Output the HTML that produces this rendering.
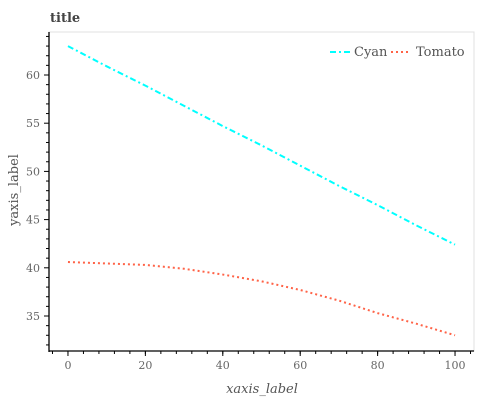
<!DOCTYPE html>
<html><head><meta charset="utf-8"><style>
body{margin:0;background:#fff;}
svg{display:block;font-family:"DejaVu Serif","Liberation Serif",serif;}
</style></head><body>
<svg id="chart" width="479" height="400"></svg>
<script>
const xCategories=[0,10,20,30,40,50,60,70,80,90,100];
const cyanValues=[63.0,60.9,58.9,56.8,54.7,52.7,50.6,48.5,46.5,44.4,42.4];
const tomatoValues=[40.6,40.45,40.3,39.9,39.3,38.6,37.7,36.6,35.3,34.2,33.0];
const xTicks=[0,20,40,60,80,100];
const yTicks=[35,40,45,50,55,60];
const L=49,R=474,T=32,B=351;
const xMin=-4.9,xMax=104.9,yMin=31.37,yMax=64.46;
const sx=v=>L+(v-xMin)/(xMax-xMin)*(R-L);
const sy=v=>B-(v-yMin)/(yMax-yMin)*(B-T);
const svg=document.getElementById('chart');
const NS='http://www.w3.org/2000/svg';
function mk(tag,attrs,parent){const e=document.createElementNS(NS,tag);for(const k in attrs)e.setAttribute(k,attrs[k]);(parent||svg).appendChild(e);return e;}
let e;
e=mk('rect',{x:L,y:T,width:R-L,height:B-T,fill:'none',stroke:'#e0e0e0','stroke-width':1});


e=mk('text',{x:50,y:22,'font-size':13,'font-weight':'bold',fill:'#444'});e.textContent='title';


e=mk('line',{x1:L,y1:T,x2:L,y2:B+1,stroke:'#000','stroke-width':1.3});


e=mk('line',{x1:L,y1:B,x2:R,y2:B,stroke:'#000','stroke-width':1.3});


for(let v=32;v<=64;v++){e=mk('line',{x1:L-(v%5===0?5:3),y1:sy(v),x2:L,y2:sy(v),stroke:'#000','stroke-width':1});

}
for(let v=-4;v<=104;v+=4){e=mk('line',{x1:sx(v),y1:B,x2:sx(v),y2:B+3,stroke:'#000','stroke-width':1});

}
xTicks.forEach(v=>{e=mk('line',{x1:sx(v),y1:B,x2:sx(v),y2:B+5,stroke:'#000','stroke-width':1});


e=mk('text',{x:sx(v),y:B+18,'font-size':11,fill:'#666','text-anchor':'middle'});e.textContent=v;

});
yTicks.forEach(v=>{e=mk('text',{x:40,y:sy(v)+4,'font-size':11,fill:'#666','text-anchor':'end'});e.textContent=v;

});
e=mk('text',{x:262,y:393,'font-size':13,'font-style':'italic',fill:'#555','text-anchor':'middle'});e.textContent='xaxis_label';


e=mk('text',{x:0,y:0,'font-size':13,fill:'#555','text-anchor':'middle',transform:'translate(18,190) rotate(-90)'});e.textContent='yaxis_label';


const pts=a=>xCategories.map((x,i)=>sx(x)+','+sy(a[i])).join(' ');
e=mk('polyline',{points:pts(cyanValues),fill:'none',stroke:'#00ffff','stroke-width':2,'stroke-dasharray':'6,3,2,3'});


e=mk('polyline',{points:pts(tomatoValues),fill:'none',stroke:'#ff6347','stroke-width':2,'stroke-dasharray':'2,3'});


e=mk('line',{x1:330,y1:52,x2:350,y2:52,stroke:'#00ffff','stroke-width':2,'stroke-dasharray':'6,3,2,3'});


e=mk('text',{x:354,y:56,'font-size':13,fill:'#555'});e.textContent='Cyan';


e=mk('line',{x1:391,y1:52,x2:411,y2:52,stroke:'#ff6347','stroke-width':2,'stroke-dasharray':'2,3'});


e=mk('text',{x:416,y:56,'font-size':13,fill:'#555'});e.textContent='Tomato';


</script>
</body></html>
